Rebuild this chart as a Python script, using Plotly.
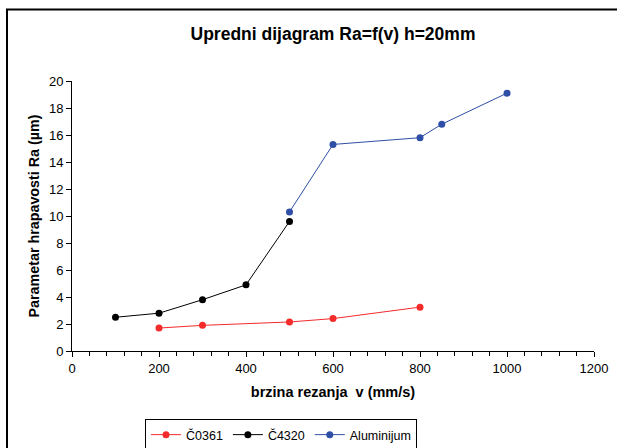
import plotly.graph_objects as go

# Data
x_c0361 = [200, 300, 500, 600, 800]
y_c0361 = [1.7, 1.9, 2.15, 2.4, 3.25]
x_c4320 = [100, 200, 300, 400, 500]
y_c4320 = [2.5, 2.8, 3.8, 4.9, 9.6]
x_alu = [500, 600, 800, 850, 1000]
y_alu = [10.3, 15.3, 15.8, 16.8, 19.1]
series_names = ["Č0361", "Č4320", "Aluminijum"]
colors = ["#F42B2B", "#000000", "#2F4FA6"]
x_ticks = [0, 200, 400, 600, 800, 1000, 1200]
y_ticks = [0, 2, 4, 6, 8, 10, 12, 14, 16, 18, 20]

FONT = "Liberation Sans, Arial, sans-serif"

fig = go.Figure()
for xs, ys, name, col in zip([x_c0361, x_c4320, x_alu], [y_c0361, y_c4320, y_alu], series_names, colors):
    fig.add_trace(go.Scatter(
        x=xs, y=ys, name=name, mode="lines+markers",
        line=dict(color=col, width=1),
        marker=dict(color=col, size=7),
    ))

W, H = 617, 448
L, R, T, B = 72, 23, 81, 97
pw = W - L - R
ph = H - T - B

def px_x(p):
    return (p - L) / pw

def px_y(p):
    return (H - B - p) / ph

fig.update_layout(
    width=W, height=H,
    margin=dict(l=L, r=R, t=T, b=B, autoexpand=False),
    paper_bgcolor="white", plot_bgcolor="white",
    font=dict(family=FONT, size=13, color="black"),
    title=dict(text="<b>Upredni dijagram Ra=f(v) h=20mm</b>", x=333 / W, xref="container", xanchor="center",
               y=1 - 34 / H, yref="container", yanchor="middle",
               font=dict(size=17.5, family=FONT, color="black")),
    xaxis=dict(range=[0, 1200], tickvals=x_ticks, showgrid=False, zeroline=False,
               showline=True, linecolor="black", linewidth=1,
               ticks="outside", ticklen=5, tickcolor="black",
               minor=dict(dtick=40, ticks="outside", ticklen=4, tickcolor="black", showgrid=False),
               title=dict(text="<b>brzina rezanja  v (mm/s)</b>", font=dict(size=14.5), standoff=12),
               tickfont=dict(size=13)),
    yaxis=dict(range=[0, 20], tickvals=y_ticks, showgrid=False, zeroline=False,
               showline=True, linecolor="black", linewidth=1,
               ticks="outside", ticklen=5, tickcolor="black",
               title=dict(text="<b>Parametar hrapavosti Ra (µm)</b>", font=dict(size=14.3), standoff=5),
               tickfont=dict(size=13)),
    legend=dict(orientation="h", xref="container", yref="container",
                x=281 / W, xanchor="center", y=1 - 419 / H, yanchor="top",
                bordercolor="black", borderwidth=1, bgcolor="white",
                font=dict(size=12.5), itemwidth=30, tracegroupgap=0),
    showlegend=True,
)

fig.add_shape(type="rect", xref="paper", yref="paper",
              x0=px_x(7), x1=px_x(640), y0=px_y(480), y1=px_y(9.5),
              line=dict(color="black", width=2), fillcolor="rgba(0,0,0,0)", layer="below")

fig.write_html("out.html", config={"displayModeBar": False},
               post_script="document.body.style.margin='0';document.body.style.overflow='hidden';")
